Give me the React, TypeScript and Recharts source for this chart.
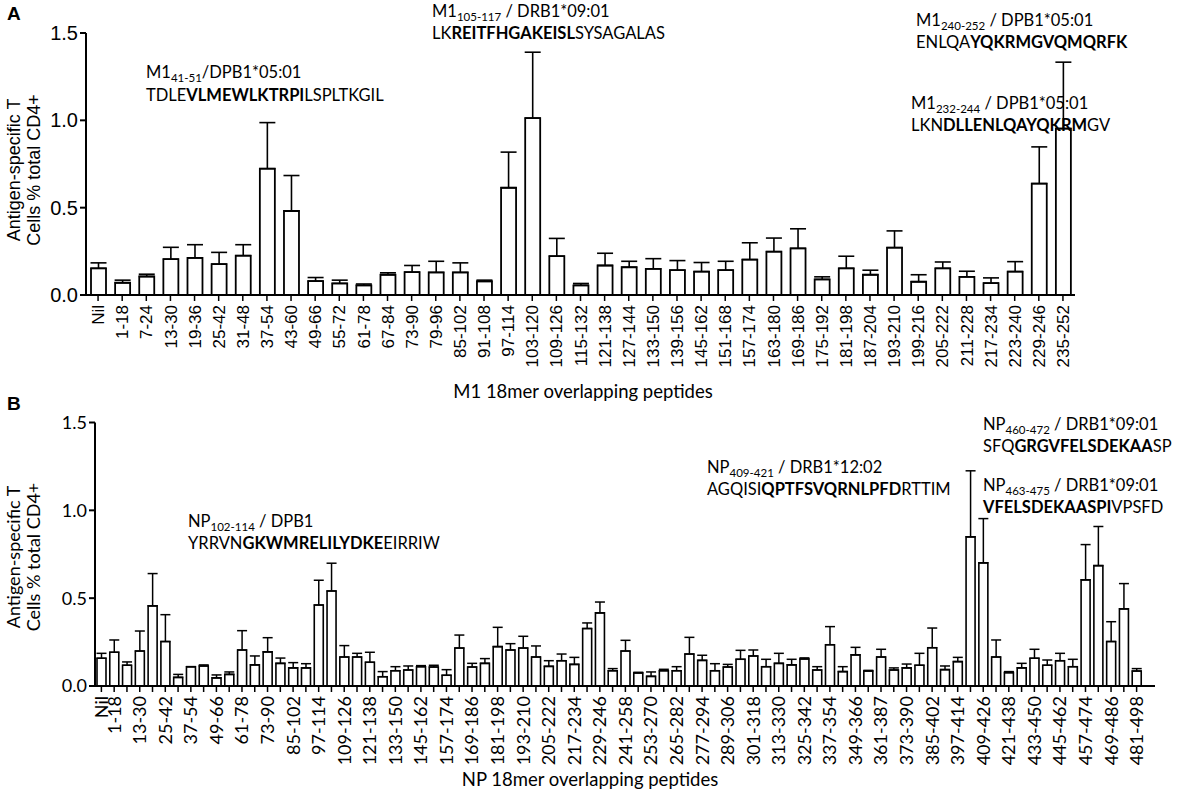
import React from 'react';
import { BarChart, Bar, XAxis, YAxis, ErrorBar } from 'recharts';

// ---------- Panel A: M1 peptides ----------
const m1Labels = ['Nil','1-18','7-24','13-30','19-36','25-42','31-48','37-54','43-60','49-66','55-72','61-78','67-84','73-90','79-96','85-102','91-108','97-114','103-120','109-126','115-132','121-138','127-144','133-150','139-156','145-162','151-168','157-174','163-180','169-186','175-192','181-198','187-204','193-210','199-216','205-222','211-228','217-234','223-240','229-246','235-252'];
const m1Values = [0.153,0.070,0.106,0.205,0.212,0.177,0.225,0.723,0.481,0.080,0.066,0.055,0.116,0.131,0.129,0.129,0.078,0.614,1.013,0.222,0.055,0.169,0.159,0.150,0.142,0.134,0.142,0.203,0.248,0.267,0.089,0.153,0.116,0.271,0.076,0.153,0.104,0.068,0.134,0.638,0.953];
const m1Upper = [0.184,0.085,0.119,0.273,0.288,0.244,0.288,0.987,0.684,0.100,0.085,0.063,0.127,0.169,0.193,0.184,0.085,0.818,1.390,0.324,0.066,0.239,0.193,0.208,0.197,0.186,0.193,0.299,0.326,0.379,0.104,0.222,0.142,0.367,0.116,0.189,0.136,0.098,0.191,0.848,1.333];

// ---------- Panel B: NP peptides ----------
const npLabels = ['Nil','1-18','7-24','13-30','19-36','25-42','31-48','37-54','43-60','49-66','55-72','61-78','67-84','73-90','79-96','85-102','91-108','97-114','103-120','109-126','115-132','121-138','127-144','133-150','139-156','145-162','151-168','157-174','163-180','169-186','175-192','181-198','187-204','193-210','199-216','205-222','211-228','217-234','223-240','229-246','235-252','241-258','247-264','253-270','259-276','265-282','271-288','277-294','283-300','289-306','295-312','301-318','307-324','313-330','319-336','325-342','331-348','337-354','343-360','349-366','355-372','361-387','367-384','373-390','379-396','385-402','391-408','397-414','403-420','409-426','415-432','421-438','427-444','433-450','439-456','445-462','451-468','457-474','463-480','469-486','475-492','481-498'];
const npValues = [0.158,0.192,0.118,0.199,0.456,0.253,0.049,0.110,0.114,0.046,0.066,0.205,0.120,0.194,0.129,0.103,0.103,0.461,0.541,0.165,0.165,0.135,0.053,0.087,0.091,0.110,0.108,0.061,0.216,0.108,0.129,0.224,0.205,0.216,0.165,0.112,0.144,0.123,0.327,0.416,0.087,0.199,0.074,0.055,0.087,0.087,0.182,0.146,0.087,0.108,0.152,0.171,0.110,0.129,0.120,0.154,0.091,0.235,0.082,0.177,0.085,0.165,0.091,0.103,0.118,0.218,0.093,0.139,0.849,0.701,0.165,0.076,0.103,0.158,0.118,0.144,0.110,0.604,0.685,0.253,0.439,0.085];
const npUpper = [0.186,0.262,0.137,0.313,0.640,0.406,0.066,0.110,0.120,0.063,0.080,0.315,0.171,0.275,0.159,0.133,0.127,0.602,0.699,0.230,0.186,0.192,0.082,0.110,0.114,0.116,0.118,0.093,0.290,0.129,0.156,0.334,0.241,0.283,0.228,0.144,0.182,0.163,0.359,0.478,0.099,0.260,0.078,0.080,0.095,0.110,0.277,0.175,0.127,0.123,0.203,0.205,0.152,0.186,0.152,0.160,0.110,0.338,0.110,0.220,0.089,0.209,0.103,0.125,0.186,0.330,0.114,0.163,1.225,0.953,0.262,0.082,0.129,0.209,0.148,0.186,0.152,0.805,0.908,0.366,0.583,0.099];

const yTicks = [0, 0.5, 1.0, 1.5];

// annotation text segments: [text, style] where style: n normal, b bold, s subscript
type Seg = [string, 'n' | 'b' | 's'];
const annotationsA: { x: number; y: number; segs: Seg[] }[] = [
  { x: 146, y: 78, segs: [['M1', 'n'], ['41-51', 's'], ['/DPB1*05:01', 'n']] },
  { x: 146, y: 101, segs: [['TDLE', 'n'], ['VLMEWLKTRPI', 'b'], ['LSPLTKGIL', 'n']] },
  { x: 432, y: 17, segs: [['M1', 'n'], ['105-117', 's'], [' / DRB1*09:01', 'n']] },
  { x: 432, y: 39, segs: [['LK', 'n'], ['REITFHGAKEISL', 'b'], ['SYSAGALAS', 'n']] },
  { x: 916, y: 26, segs: [['M1', 'n'], ['240-252', 's'], [' / DPB1*05:01', 'n']] },
  { x: 916, y: 48, segs: [['ENLQA', 'n'], ['YQKRMGVQMQRFK', 'b']] },
  { x: 911, y: 109, segs: [['M1', 'n'], ['232-244', 's'], [' / DPB1*05:01', 'n']] },
  { x: 911, y: 131, segs: [['LKN', 'n'], ['DLLENLQAYQKRM', 'b'], ['GV', 'n']] },
];
const annotationsB: { x: number; y: number; segs: Seg[] }[] = [
  { x: 188, y: 527, segs: [['NP', 'n'], ['102-114', 's'], [' / DPB1', 'n']] },
  { x: 188, y: 549, segs: [['YRRVN', 'n'], ['GKWMRELILYDKE', 'b'], ['EIRRIW', 'n']] },
  { x: 707, y: 473, segs: [['NP', 'n'], ['409-421', 's'], [' / DRB1*12:02', 'n']] },
  { x: 707, y: 495, segs: [['AGQISI', 'n'], ['QPTFSVQRNLPFD', 'b'], ['RTTIM', 'n']] },
  { x: 983, y: 430, segs: [['NP', 'n'], ['460-472', 's'], [' / DRB1*09:01', 'n']] },
  { x: 983, y: 452, segs: [['SFQ', 'n'], ['GRGVFELSDEKAA', 'b'], ['SP', 'n']] },
  { x: 983, y: 491, segs: [['NP', 'n'], ['463-475', 's'], [' / DRB1*09:01', 'n']] },
  { x: 983, y: 513, segs: [['VFELSDEKAASPI', 'b'], ['VPSFD', 'n']] },
];

const m1Data = m1Labels.map((name, i) => ({ name, value: m1Values[i], err: [0, Math.max(0, m1Upper[i] - m1Values[i])] }));
const npData = npLabels.map((name, i) => ({ name, value: npValues[i], err: [0, Math.max(0, npUpper[i] - npValues[i])] }));

const ARIAL = '"Liberation Sans", Arial, sans-serif';
const CAL = 'Lato, "Open Sans", sans-serif';

const TickA = (props: any) => {
  const { x, y, payload } = props;
  const yy = y + 2;
  return (
    <text x={x} y={yy} transform={`rotate(-90 ${x} ${yy})`} textAnchor="end" dy="0.36em" fontSize={17} fontFamily={ARIAL} fill="#000">
      {payload.value}
    </text>
  );
};

const TickB = (props: any) => {
  const { x, y, payload, index } = props;
  if (!(index === 0 || index % 2 === 1)) return null;
  const yy = y + 2;
  return (
    <text x={x} y={yy} transform={`rotate(-90 ${x} ${yy})`} textAnchor="end" dy="0.36em" fontSize={18} fontFamily={CAL} fill="#000">
      {payload.value}
    </text>
  );
};

const AnnText = ({ x, y, segs }: { x: number; y: number; segs: Seg[] }) => (
  <text x={x} y={y} fontSize={16.5} fontFamily={CAL} fill="#000">
    {segs.map(([t, s], i) => {
      const prev = i > 0 ? segs[i - 1][1] : 'n';
      let dy = 0;
      if (s === 's' && prev !== 's') dy = 4;
      if (s !== 's' && prev === 's') dy = -4;
      return (
        <tspan key={i} dy={dy} fontWeight={s === 'b' ? 700 : 400} fontSize={s === 's' ? 11.5 : 16.5}>
          {t}
        </tspan>
      );
    })}
  </text>
);

export default function App() {
  return (
    <div style={{ position: 'absolute', left: 0, top: 0, width: 1192, height: 798, background: '#fff', overflow: 'hidden' }}>
      <div style={{ position: 'absolute', left: 0, top: 0 }}>
        <BarChart width={1192} height={400} data={m1Data} margin={{ top: 33, right: 117, bottom: 0, left: 0 }}>
          <XAxis dataKey="name" interval={0} height={105} tick={<TickA />} tickSize={6} axisLine={{ stroke: '#000', strokeWidth: 2 }} tickLine={{ stroke: '#000', strokeWidth: 1.5 }} />
          <YAxis domain={[0, 1.5]} ticks={yTicks} width={86} tickSize={6} tickFormatter={(v: number) => v.toFixed(1)} tick={{ fontSize: 20, fontFamily: ARIAL, fill: '#000' }} axisLine={{ stroke: '#000', strokeWidth: 2 }} tickLine={{ stroke: '#000', strokeWidth: 2 }} allowDataOverflow />
          <Bar dataKey="value" barSize={15} fill="#fff" stroke="#000" strokeWidth={1.8} isAnimationActive={false}>
            <ErrorBar dataKey="err" width={8} stroke="#000" strokeWidth={1.6} direction="y" />
          </Bar>
        </BarChart>
      </div>
      <div style={{ position: 'absolute', left: 0, top: 400 }}>
        <BarChart width={1192} height={398} data={npData} margin={{ top: 22.5, right: 37, bottom: 0, left: 0 }}>
          <XAxis dataKey="name" interval={0} height={112} tick={<TickB />} tickSize={6} padding={{ left: 0, right: 12 }} axisLine={{ stroke: '#000', strokeWidth: 2 }} tickLine={{ stroke: '#000', strokeWidth: 1.5 }} />
          <YAxis domain={[0, 1.5]} ticks={yTicks} width={95} tickSize={6} tickFormatter={(v: number) => v.toFixed(1)} tick={{ fontSize: 18, fontFamily: CAL, fill: '#000' }} axisLine={{ stroke: '#000', strokeWidth: 2 }} tickLine={{ stroke: '#000', strokeWidth: 2 }} allowDataOverflow />
          <Bar dataKey="value" barSize={9} fill="#fff" stroke="#000" strokeWidth={1.6} isAnimationActive={false}>
            <ErrorBar dataKey="err" width={5} stroke="#000" strokeWidth={1.5} direction="y" />
          </Bar>
        </BarChart>
      </div>
      <svg width={1192} height={798} style={{ position: 'absolute', left: 0, top: 0, pointerEvents: 'none' }}>
        <text x={7} y={20} fontSize={19} fontWeight={700} fontFamily={ARIAL} fill="#000">A</text>
        <text x={7} y={410} fontSize={19} fontWeight={700} fontFamily={ARIAL} fill="#000">B</text>
        <text transform="translate(20 170) rotate(-90)" textAnchor="middle" fontSize={18} fontFamily={ARIAL} fill="#000">Antigen-specific T</text>
        <text transform="translate(40 170) rotate(-90)" textAnchor="middle" fontSize={18} fontFamily={ARIAL} fill="#000">Cells % total CD4+</text>
        <text transform="translate(20 557) rotate(-90)" textAnchor="middle" fontSize={18} fontFamily={CAL} fill="#000">Antigen-specific T</text>
        <text transform="translate(40 557) rotate(-90)" textAnchor="middle" fontSize={18} fontFamily={CAL} fill="#000">Cells % total CD4+</text>
        <text x={583} y={398} textAnchor="middle" fontSize={18.5} fontFamily={CAL} fill="#000">M1 18mer overlapping peptides</text>
        <text x={590} y={786} textAnchor="middle" fontSize={18.5} fontFamily={CAL} fill="#000">NP 18mer overlapping peptides</text>
        {annotationsA.map((a, i) => <AnnText key={'a' + i} {...a} />)}
        {annotationsB.map((a, i) => <AnnText key={'b' + i} {...a} />)}
      </svg>
    </div>
  );
}
